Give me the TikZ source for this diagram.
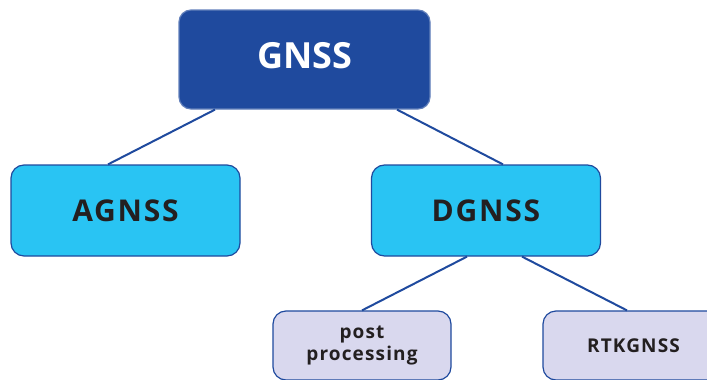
\documentclass[tikz,border=0pt]{standalone}
\usepackage{fontspec}
\setmainfont{Open Sans}
\newfontfamily\wideb[LetterSpace=6]{Open Sans}
\definecolor{darkblue}{HTML}{1F4A9E}
\definecolor{skyblue}{HTML}{29C4F3}
\definecolor{lilac}{HTML}{D9D8EE}
\definecolor{ink}{HTML}{231F20}
\begin{document}
\begin{tikzpicture}[x=1pt,y=-1pt,
  topbox/.style={draw=darkblue!70!white, line width=1.2pt, fill=darkblue, rounded corners=12pt,
    minimum width=251pt, minimum height=99pt, text=white, font=\bfseries\fontsize{36}{40}\selectfont,
    inner sep=0pt, text height=26pt, text depth=8pt},
  midbox/.style={draw=darkblue, line width=1.2pt, fill=skyblue, rounded corners=13pt,
    minimum width=229pt, minimum height=91pt, text=ink, font=\wideb\bfseries\fontsize{30}{34}\selectfont, inner sep=0pt},
  lowbox/.style={draw=darkblue, line width=1.2pt, fill=lilac, rounded corners=13pt,
    minimum width=178pt, minimum height=69pt, text=ink, font=\wideb\bfseries\fontsize{19}{22}\selectfont, align=center, inner sep=0pt},
  link/.style={draw=darkblue, line width=2pt}]
\useasboundingbox (0,0) rectangle (707,380);
\clip (0,0) rectangle (707,380);
\node[topbox] (gnss) at (304.5,59.5) {GNSS};
\node[midbox] (agnss) at (125.5,210.5) {AGNSS};
\node[midbox] (dgnss) at (486,210.5) {DGNSS};
\node[lowbox] (post) at (362,345.5) {post\\processing};
\node[lowbox, minimum width=181pt] (rtk) at (633.5,345.5) {RTKGNSS};
\draw[link] ([xshift=-89.5pt]gnss.south) -- ([xshift=-17.5pt]agnss.north);
\draw[link] ([xshift=92.5pt]gnss.south) -- ([xshift=17pt]dgnss.north);
\draw[link] ([xshift=-19pt]dgnss.south) -- (post.north);
\draw[link] ([xshift=36pt]dgnss.south) -- ([xshift=-6.5pt]rtk.north);
\end{tikzpicture}
\end{document}
